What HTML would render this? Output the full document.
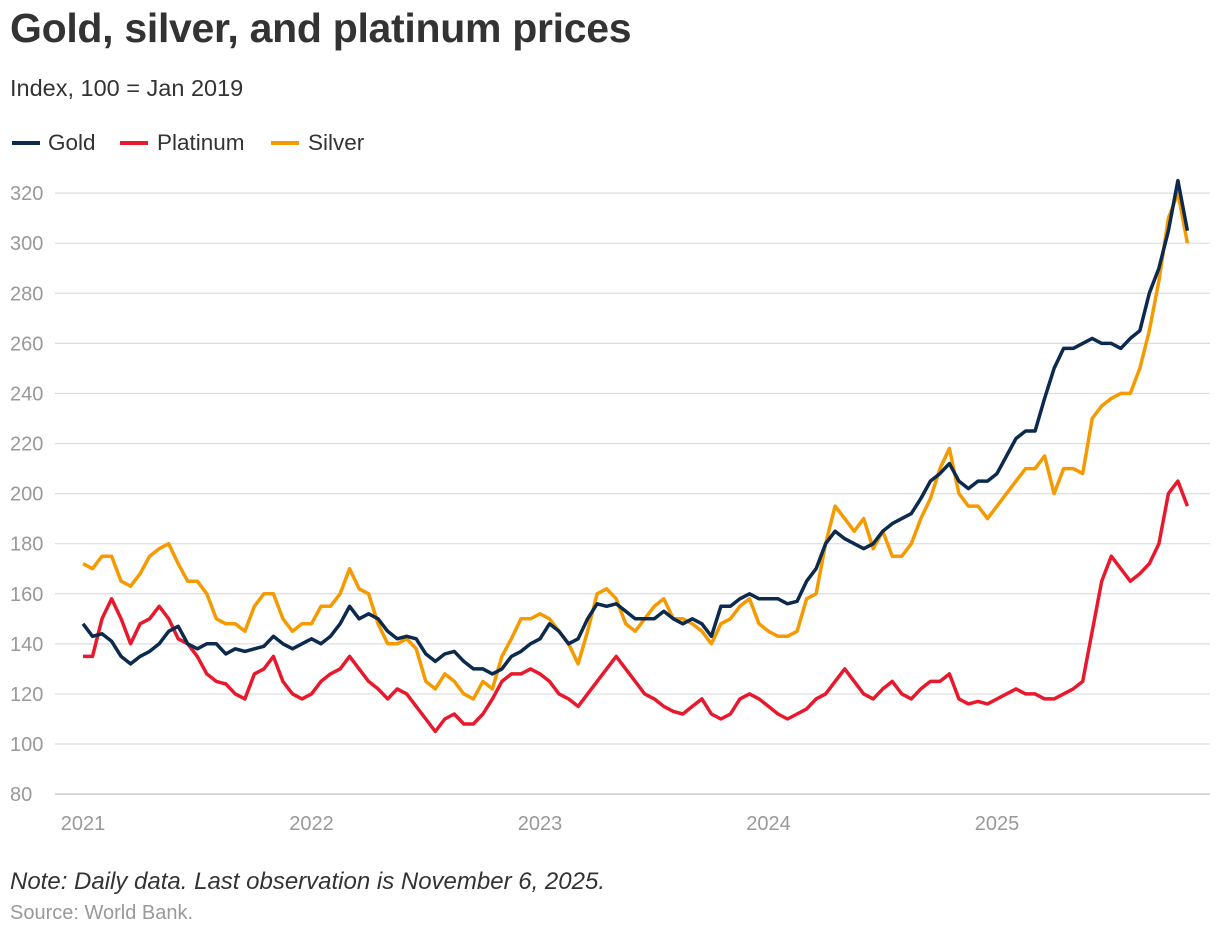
<!DOCTYPE html>
<html><head><meta charset="utf-8"><style>
body{margin:0;background:#fff;font-family:"Liberation Sans",Arial,sans-serif;}
svg text{font-family:"Liberation Sans",Arial,sans-serif;}
</style></head><body>
<svg id="chart" width="1220" height="936">
<text x="10" y="42" font-size="41" font-weight="bold" fill="#333" letter-spacing="-0.3">Gold, silver, and platinum prices</text>
<text x="10" y="96" font-size="23.5" fill="#333">Index, 100 = Jan 2019</text>
<g>
<line x1="12" y1="143" x2="40" y2="143" stroke="#0b2a4e" stroke-width="4"/><text x="48" y="150" font-size="22.5" fill="#333">Gold</text>
<line x1="120" y1="143" x2="148" y2="143" stroke="#e8192c" stroke-width="4"/><text x="157" y="150" font-size="22.5" fill="#333">Platinum</text>
<line x1="271" y1="143" x2="299" y2="143" stroke="#f59a00" stroke-width="4"/><text x="308" y="150" font-size="22.5" fill="#333">Silver</text>
</g>
<g id="grid"></g><g id="series"></g>
<text x="10" y="889" font-size="24" font-style="italic" fill="#333">Note: Daily data. Last observation is November 6, 2025.</text>
<text x="10" y="919" font-size="20" fill="#999">Source: World Bank.</text>
</svg>
<script>
const yTicks=[80,100,120,140,160,180,200,220,240,260,280,300,320];
const xTickLabels=["2021","2022","2023","2024","2025"];
const gold=[148,143,144,141,135,132,135,137,140,145,147,140,138,140,140,136,138,137,138,139,143,140,138,140,
142,140,143,148,155,150,152,150,145,142,143,142,136,133,136,137,133,130,130,128,130,135,137,140,
142,148,145,140,142,150,156,155,156,153,150,150,150,153,150,148,150,148,143,155,155,158,160,158,
158,158,156,157,165,170,180,185,182,180,178,180,185,188,190,192,198,205,208,212,205,202,205,205,
208,215,222,225,225,238,250,258,258,260,262,260,260,258,262,265,280,290,305,325,305];
const silver=[172,170,175,175,165,163,168,175,178,180,172,165,165,160,150,148,148,145,155,160,160,150,145,148,
148,155,155,160,170,162,160,148,140,140,142,138,125,122,128,125,120,118,125,122,135,142,150,150,
152,150,145,140,132,145,160,162,158,148,145,150,155,158,150,150,148,145,140,148,150,155,158,148,
145,143,143,145,158,160,180,195,190,185,190,178,185,175,175,180,190,198,210,218,200,195,195,190,
195,200,205,210,210,215,200,210,210,208,230,235,238,240,240,250,265,285,310,320,300];
const platinum=[135,135,150,158,150,140,148,150,155,150,142,140,135,128,125,124,120,118,128,130,135,125,120,118,
120,125,128,130,135,130,125,122,118,122,120,115,110,105,110,112,108,108,112,118,125,128,128,130,
128,125,120,118,115,120,125,130,135,130,125,120,118,115,113,112,115,118,112,110,112,118,120,118,
115,112,110,112,114,118,120,125,130,125,120,118,122,125,120,118,122,125,125,128,118,116,117,116,
118,120,122,120,120,118,118,120,122,125,145,165,175,170,165,168,172,180,200,205,195];
const X=t=>83+(t-2021)*228.5;
const Y=v=>744-(v-100)*2.504;
const NS="http://www.w3.org/2000/svg";
const grid=document.getElementById('grid'),ser=document.getElementById('series');
yTicks.forEach(v=>{
 const l=document.createElementNS(NS,'line');
 l.setAttribute('x1',55);l.setAttribute('x2',1210);l.setAttribute('y1',Y(v));l.setAttribute('y2',Y(v));
 l.setAttribute('stroke',v===80?'#bbb':'#ddd');l.setAttribute('stroke-width',1.2);
 
 
 grid.appendChild(l);
 const t=document.createElementNS(NS,'text');
 t.setAttribute('x',10);t.setAttribute('y',Y(v)+7);t.setAttribute('font-size',20);t.setAttribute('fill','#999');
 t.textContent=v;
 
 
 grid.appendChild(t);
});
xTickLabels.forEach((s,i)=>{
 const t=document.createElementNS(NS,'text');
 t.setAttribute('x',X(2021+i));t.setAttribute('y',830);t.setAttribute('font-size',20);t.setAttribute('fill','#999');
 t.setAttribute('text-anchor','middle');t.textContent=s;
 
 
 grid.appendChild(t);
});
function draw(arr,color,name){
 const p=document.createElementNS(NS,'path');
 p.setAttribute('d',arr.map((v,i)=>(i?'L':'M')+X(2021+i/24).toFixed(1)+','+Y(v).toFixed(1)).join(''));
 p.setAttribute('fill','none');p.setAttribute('stroke',color);p.setAttribute('stroke-width',3.5);p.setAttribute('stroke-linejoin','round');
 
 
 ser.appendChild(p);
}
draw(platinum,'#e8192c','platinum-line');
draw(silver,'#f59a00','silver-line');
draw(gold,'#0b2a4e','gold-line');
</script>
</body></html>
